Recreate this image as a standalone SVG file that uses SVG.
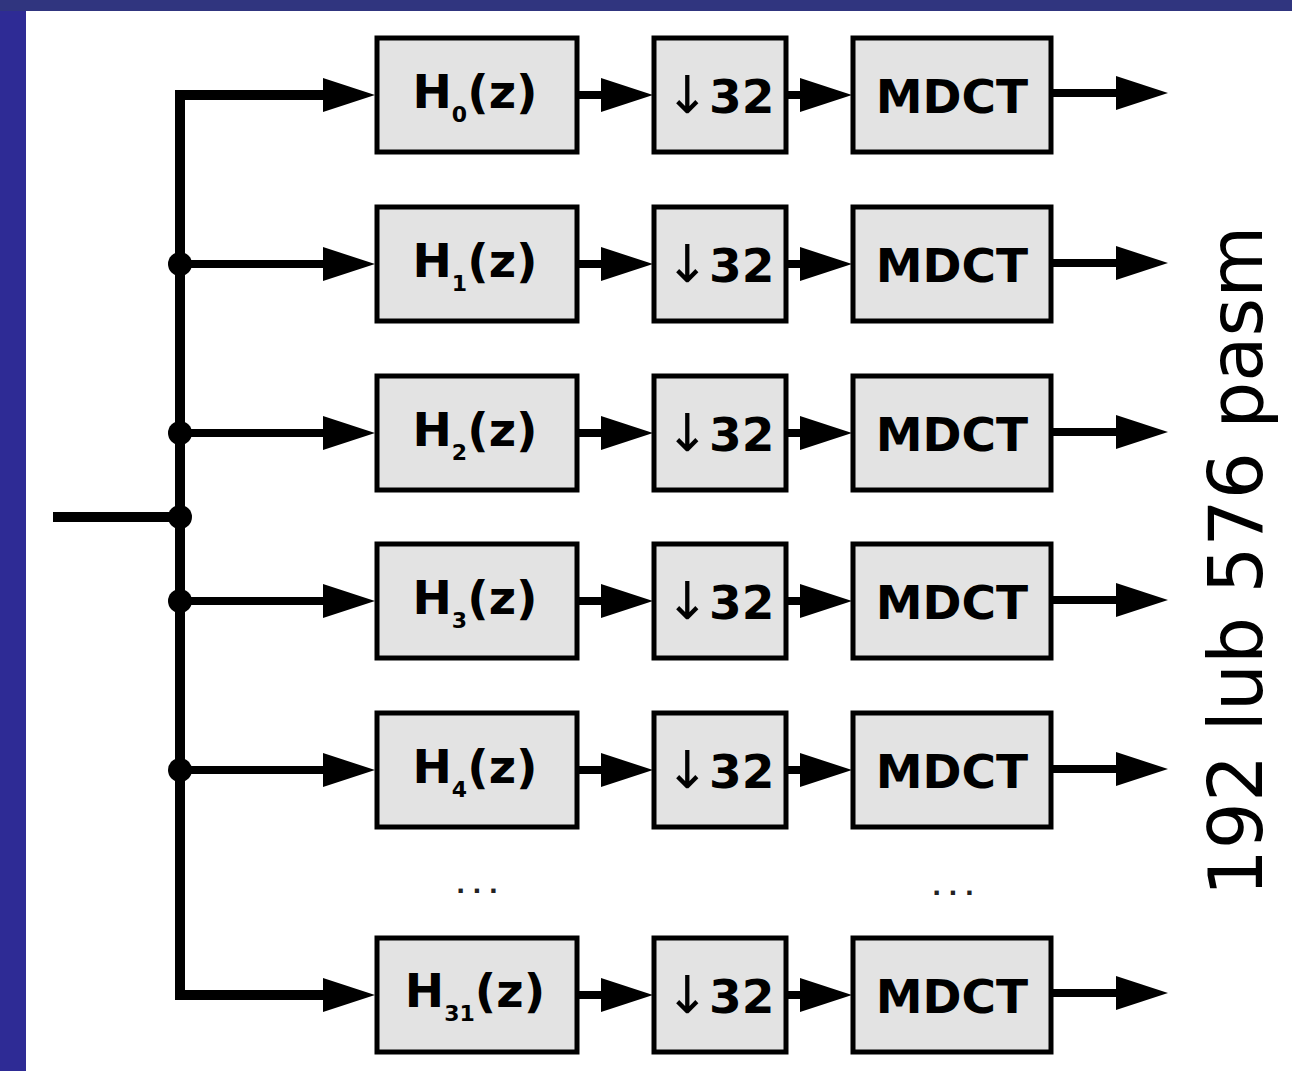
<svg xmlns="http://www.w3.org/2000/svg" width="1292" height="1071" viewBox="0 0 1292 1071">
<style>
.box{fill:#e3e3e3;stroke:#000;stroke-width:5}
.lbl{font-family:"DejaVu Sans",Verdana,sans-serif;font-weight:bold;font-size:47px;fill:#000;text-anchor:middle}
.sub{font-size:22px}
.arr{font-weight:normal;font-size:52px}
.wire{fill:none;stroke:#000;stroke-width:8}
.bus{fill:none;stroke:#000;stroke-width:10;stroke-linejoin:miter}
.dots{font-family:"Liberation Sans",Arial,sans-serif;font-size:30px;font-weight:bold;letter-spacing:8px;fill:#222;text-anchor:middle}
</style>
<defs>
<marker id="ah" markerUnits="userSpaceOnUse" markerWidth="54" markerHeight="36" refX="22" refY="17" orient="auto-start-reverse" viewBox="0 0 54 36">
<path d="M0,0 L52,17 L0,34 Z" fill="#000"/>
</marker>
</defs>
<rect x="0" y="0" width="1292" height="1071" fill="#fff"/>
<rect x="0" y="0" width="26" height="1071" fill="#2e2b95"/>
<rect x="0" y="0" width="1292" height="11" fill="#30357f"/>

<g id="connectors">
<path class="bus" d="M345,95 H180 V995 H345" marker-start="url(#ah)" marker-end="url(#ah)"/>
<line class="bus" x1="53" y1="517" x2="180" y2="517"/>
<line class="wire" x1="180" y1="264" x2="345" y2="264" marker-end="url(#ah)"/>
<line class="wire" x1="180" y1="433" x2="345" y2="433" marker-end="url(#ah)"/>
<line class="wire" x1="180" y1="601" x2="345" y2="601" marker-end="url(#ah)"/>
<line class="wire" x1="180" y1="770" x2="345" y2="770" marker-end="url(#ah)"/>
<g id="junctions" fill="#000">
<circle cx="180" cy="264" r="12"/>
<circle cx="180" cy="433" r="12"/>
<circle cx="180" cy="517" r="12"/>
<circle cx="180" cy="601" r="12"/>
<circle cx="180" cy="770" r="12"/>
</g>
<line class="wire" x1="577" y1="95" x2="623" y2="95" marker-end="url(#ah)"/>
<line class="wire" x1="786" y1="95" x2="822" y2="95" marker-end="url(#ah)"/>
<line class="wire" x1="1051" y1="93" x2="1138" y2="93" marker-end="url(#ah)"/>
<line class="wire" x1="577" y1="264" x2="623" y2="264" marker-end="url(#ah)"/>
<line class="wire" x1="786" y1="264" x2="822" y2="264" marker-end="url(#ah)"/>
<line class="wire" x1="1051" y1="263" x2="1138" y2="263" marker-end="url(#ah)"/>
<line class="wire" x1="577" y1="433" x2="623" y2="433" marker-end="url(#ah)"/>
<line class="wire" x1="786" y1="433" x2="822" y2="433" marker-end="url(#ah)"/>
<line class="wire" x1="1051" y1="432" x2="1138" y2="432" marker-end="url(#ah)"/>
<line class="wire" x1="577" y1="601" x2="623" y2="601" marker-end="url(#ah)"/>
<line class="wire" x1="786" y1="601" x2="822" y2="601" marker-end="url(#ah)"/>
<line class="wire" x1="1051" y1="600" x2="1138" y2="600" marker-end="url(#ah)"/>
<line class="wire" x1="577" y1="770" x2="623" y2="770" marker-end="url(#ah)"/>
<line class="wire" x1="786" y1="770" x2="822" y2="770" marker-end="url(#ah)"/>
<line class="wire" x1="1051" y1="769" x2="1138" y2="769" marker-end="url(#ah)"/>
<line class="wire" x1="577" y1="995" x2="623" y2="995" marker-end="url(#ah)"/>
<line class="wire" x1="786" y1="995" x2="822" y2="995" marker-end="url(#ah)"/>
<line class="wire" x1="1051" y1="993" x2="1138" y2="993" marker-end="url(#ah)"/>
</g>

<g id="h0"><rect class="box" x="377" y="38" width="200" height="114"/><text class="lbl" x="475" y="108">H<tspan class="sub" dy="14">0</tspan><tspan dy="-14">(z)</tspan></text></g>
<g id="d0"><rect class="box" x="654" y="38" width="132" height="114"/><text class="lbl" x="720" y="113"><tspan class="arr">↓</tspan>32</text></g>
<g id="m0"><rect class="box" x="853" y="38" width="198" height="114"/><text class="lbl" x="952" y="113">MDCT</text></g>

<g id="h1"><rect class="box" x="377" y="207" width="200" height="114"/><text class="lbl" x="475" y="277">H<tspan class="sub" dy="14">1</tspan><tspan dy="-14">(z)</tspan></text></g>
<g id="d1"><rect class="box" x="654" y="207" width="132" height="114"/><text class="lbl" x="720" y="282"><tspan class="arr">↓</tspan>32</text></g>
<g id="m1"><rect class="box" x="853" y="207" width="198" height="114"/><text class="lbl" x="952" y="282">MDCT</text></g>

<g id="h2"><rect class="box" x="377" y="376" width="200" height="114"/><text class="lbl" x="475" y="446">H<tspan class="sub" dy="14">2</tspan><tspan dy="-14">(z)</tspan></text></g>
<g id="d2"><rect class="box" x="654" y="376" width="132" height="114"/><text class="lbl" x="720" y="451"><tspan class="arr">↓</tspan>32</text></g>
<g id="m2"><rect class="box" x="853" y="376" width="198" height="114"/><text class="lbl" x="952" y="451">MDCT</text></g>

<g id="h3"><rect class="box" x="377" y="544" width="200" height="114"/><text class="lbl" x="475" y="614">H<tspan class="sub" dy="14">3</tspan><tspan dy="-14">(z)</tspan></text></g>
<g id="d3"><rect class="box" x="654" y="544" width="132" height="114"/><text class="lbl" x="720" y="619"><tspan class="arr">↓</tspan>32</text></g>
<g id="m3"><rect class="box" x="853" y="544" width="198" height="114"/><text class="lbl" x="952" y="619">MDCT</text></g>

<g id="h4"><rect class="box" x="377" y="713" width="200" height="114"/><text class="lbl" x="475" y="783">H<tspan class="sub" dy="14">4</tspan><tspan dy="-14">(z)</tspan></text></g>
<g id="d4"><rect class="box" x="654" y="713" width="132" height="114"/><text class="lbl" x="720" y="788"><tspan class="arr">↓</tspan>32</text></g>
<g id="m4"><rect class="box" x="853" y="713" width="198" height="114"/><text class="lbl" x="952" y="788">MDCT</text></g>

<g id="ellipsis">
<text class="dots" x="481" y="893">...</text>
<text class="dots" x="957" y="895">...</text>
</g>

<g id="h31"><rect class="box" x="377" y="938" width="200" height="114"/><text class="lbl" x="475" y="1007">H<tspan class="sub" dy="14">31</tspan><tspan dy="-14">(z)</tspan></text></g>
<g id="d31"><rect class="box" x="654" y="938" width="132" height="114"/><text class="lbl" x="720" y="1013"><tspan class="arr">↓</tspan>32</text></g>
<g id="m31"><rect class="box" x="853" y="938" width="198" height="114"/><text class="lbl" x="952" y="1013">MDCT</text></g>

<g id="side-label">
<text transform="translate(1262,561) rotate(-90)" x="0" y="0" text-anchor="middle" font-family="DejaVu Sans, Verdana, sans-serif" font-size="74" fill="#000">192 lub 576 pasm</text>
</g>
</svg>
